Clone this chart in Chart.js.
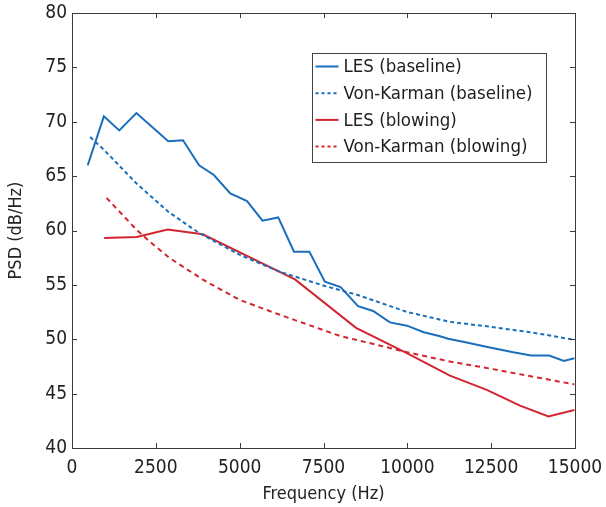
<!DOCTYPE html>
<html>
<head>
<meta charset="utf-8">
<script src="https://cdn.jsdelivr.net/npm/chart.js@4.4.1/dist/chart.umd.min.js"></script>
<style>
  html, body { margin: 0; padding: 0; background: #fff; }
  #wrap { width: 606px; height: 507px; position: relative; }
</style>
</head>
<body>
<div id="wrap"><canvas id="c" width="606" height="507"></canvas></div>
<script>
// ---- data ----
const seriesLabels = ['LES (baseline)', 'Von-Karman (baseline)', 'LES (blowing)', 'Von-Karman (blowing)'];

const lesBaseFreq = [469, 950, 1410, 1920, 2400, 2870, 3310, 3790, 4230, 4720, 5220, 5680, 6150, 6620, 7080, 7540, 8010, 8530, 8980, 9480, 9990, 10490, 10950, 11220, 11770, 12460, 13160, 13690, 14230, 14670, 14980];
const lesBasePSD  = [66.0, 70.5, 69.2, 70.8, 69.5, 68.2, 68.3, 66.0, 65.1, 63.4, 62.7, 60.9, 61.2, 58.05, 58.05, 55.3, 54.8, 53.05, 52.6, 51.55, 51.25, 50.65, 50.3, 50.05, 49.7, 49.25, 48.8, 48.5, 48.5, 48.0, 48.25];

const vkBaseFreq = [540, 960, 1930, 2880, 3800, 5010, 6200, 7540, 8540, 10000, 11270, 12470, 13760, 14980];
const vkBasePSD  = [68.6, 67.4, 64.3, 61.7, 59.75, 57.75, 56.2, 54.9, 54.05, 52.5, 51.6, 51.15, 50.6, 49.95];

const lesBlowFreq = [960, 1930, 2850, 3900, 6650, 8470, 10000, 11270, 12370, 13360, 14210, 14980];
const lesBlowPSD  = [59.3, 59.4, 60.1, 59.65, 55.5, 51.05, 48.7, 46.65, 45.35, 43.9, 42.9, 43.5];

const vkBlowFreq = [1030, 1930, 2330, 2920, 3920, 5010, 6200, 7990, 8540, 10000, 11270, 12470, 13760, 14980];
const vkBlowPSD  = [63.0, 60.05, 58.95, 57.45, 55.45, 53.6, 52.25, 50.3, 49.9, 48.8, 47.95, 47.3, 46.55, 45.85];

const xTickMin = 0, xTickMax = 15000, xTickStep = 2500;
const yTickMin = 40, yTickMax = 80, yTickStep = 5;

// ---- build ----
const pts = (xs, ys) => xs.map((x, i) => ({x: x, y: ys[i]}));
const BLUE = '#1a6fbd', RED = '#d1262f';
const FONT = "'Liberation Sans Narrow', 'DejaVu Sans Condensed', 'Liberation Sans', sans-serif";

const datasets = [
  {label: seriesLabels[0], data: pts(lesBaseFreq, lesBasePSD), borderColor: BLUE, borderDash: []},
  {label: seriesLabels[1], data: pts(vkBaseFreq, vkBasePSD), borderColor: BLUE, borderDash: [4, 3]},
  {label: seriesLabels[2], data: pts(lesBlowFreq, lesBlowPSD), borderColor: RED, borderDash: []},
  {label: seriesLabels[3], data: pts(vkBlowFreq, vkBlowPSD), borderColor: RED, borderDash: [5, 4]}
].map(d => Object.assign(d, {borderWidth: 2, pointRadius: 0, fill: false, tension: 0, showLine: true}));

const framePlugin = {
  id: 'frame',
  afterDraw(chart) {
    const {ctx, chartArea: a, scales: {x, y}} = chart;
    ctx.save();
    ctx.strokeStyle = '#3a3a3a';
    ctx.lineWidth = 1;
    ctx.strokeRect(Math.round(a.left) + 0.5, Math.round(a.top) + 0.5, Math.round(a.right - a.left), Math.round(a.bottom - a.top));
    const L = 5;
    ctx.beginPath();
    x.ticks.forEach(t => {
      const px = Math.round(x.getPixelForValue(t.value)) + 0.5;
      ctx.moveTo(px, a.bottom); ctx.lineTo(px, a.bottom - L);
      ctx.moveTo(px, a.top); ctx.lineTo(px, a.top + L);
    });
    y.ticks.forEach(t => {
      const py = Math.round(y.getPixelForValue(t.value)) + 0.5;
      ctx.moveTo(a.left, py); ctx.lineTo(a.left + L, py);
      ctx.moveTo(a.right, py); ctx.lineTo(a.right - L, py);
    });
    ctx.stroke();

    // legend box inside the plot
    const bx = Math.round(a.left + 240) + 0.5, by = Math.round(a.top + 40) + 0.5, bw = 234, bh = 109;
    ctx.fillStyle = '#fff';
    ctx.fillRect(bx, by, bw, bh);
    ctx.strokeStyle = '#444';
    ctx.strokeRect(bx, by, bw, bh);
    ctx.font = "18.5px " + FONT;
    ctx.textBaseline = 'middle';
    chart.data.datasets.forEach((d, i) => {
      const ly = by + 13 + i * 26.7;
      ctx.strokeStyle = d.borderColor;
      ctx.lineWidth = 2;
      ctx.setLineDash(d.borderDash.length ? [3, 3] : []);
      ctx.beginPath();
      ctx.moveTo(bx + 3, ly); ctx.lineTo(bx + 26, ly);
      ctx.stroke();
      ctx.setLineDash([]);
      ctx.fillStyle = '#1e1e1e';
      ctx.fillText(d.label, bx + 31, ly + 1);
    });
    ctx.restore();
  }
};

new Chart(document.getElementById('c'), {
  type: 'scatter',
  data: {datasets: datasets},
  plugins: [framePlugin],
  options: {
    responsive: false,
    animation: false,
    devicePixelRatio: 1,
    layout: {padding: {top: 13, right: 31, left: 0, bottom: 0}},
    plugins: {legend: {display: false}, tooltip: {enabled: false}},
    scales: {
      x: {
        type: 'linear', min: xTickMin, max: xTickMax,
        afterFit: s => { s.height = 59; s.paddingRight = 0; s.paddingLeft = 0; },
        grid: {display: false, drawTicks: false},
        border: {display: false},
        ticks: {stepSize: xTickStep, padding: 9, color: '#222', font: {family: FONT, size: 19}, maxRotation: 0, callback: v => String(v)},
        title: {display: true, text: 'Frequency (Hz)', color: '#222', font: {family: FONT, size: 18}, padding: {top: 0, bottom: 2}}
      },
      y: {
        type: 'linear', min: yTickMin, max: yTickMax,
        afterFit: s => { s.width = 72; s.paddingTop = 0; s.paddingBottom = 0; },
        grid: {display: false, drawTicks: false},
        border: {display: false},
        ticks: {stepSize: yTickStep, padding: 5, color: '#222', font: {family: FONT, size: 19}},
        title: {display: true, text: 'PSD (dB/Hz)', color: '#222', font: {family: FONT, size: 18}, padding: {top: 6, bottom: 0}}
      }
    }
  }
});
</script>
</body>
</html>
